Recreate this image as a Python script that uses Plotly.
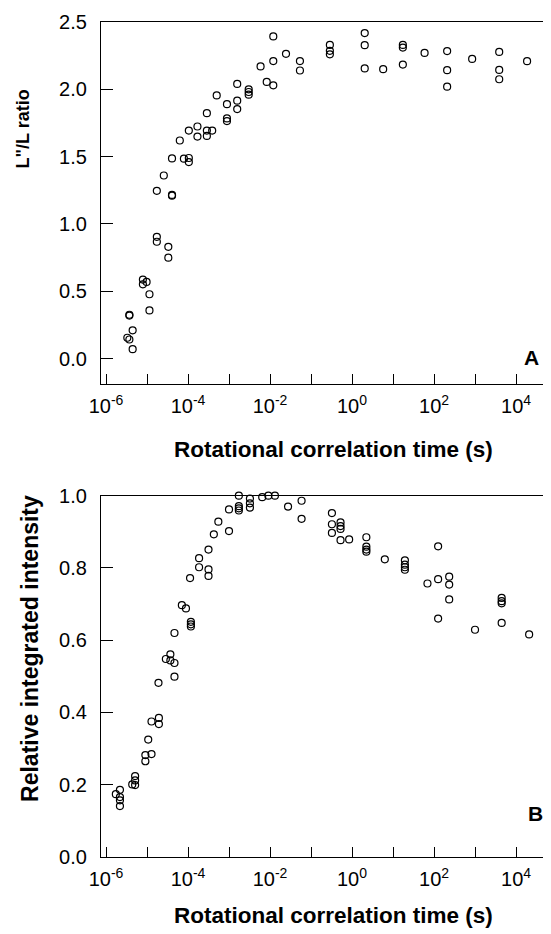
import plotly.graph_objects as go

# ---- Panel A: L''/L ratio vs rotational correlation time (x stored as log10 seconds) ----
a_log10_tau = [-5.48, -5.43, -5.35, -5.35, -5.43, -5.43, -5.10, -5.10, -5.01, -4.94, -4.94,
               -4.76, -4.76, -4.48, -4.48, -4.76, -4.39, -4.39, -4.59, -4.39, -4.10, -3.98,
               -3.98, -4.20, -3.98, -3.77, -3.77, -3.54, -3.41, -3.54, -3.54, -3.30, -3.05,
               -3.05, -3.05, -2.80, -2.80, -2.80, -2.52, -2.52, -2.52, -2.23, -2.08, -1.92,
               -1.92, -1.92, -1.61, -1.27, -1.27, -0.54, -0.54, -0.54, 0.31, 0.31, 0.31,
               0.76, 1.24, 1.24, 1.24, 1.77, 2.32, 2.32, 2.32, 2.93, 3.59, 3.59, 3.59, 4.27]
a_ratio = [0.155, 0.142, 0.21, 0.07, 0.326, 0.32, 0.587, 0.552, 0.57, 0.478, 0.358,
           0.905, 0.868, 0.83, 0.75, 1.246, 1.216, 1.21, 1.36, 1.487, 1.485, 1.49,
           1.46, 1.62, 1.694, 1.724, 1.649, 1.694, 1.694, 1.654, 1.823, 1.955, 1.784,
           1.764, 1.89, 2.04, 1.916, 1.853, 2.0, 1.98, 1.96, 2.17, 2.055, 2.393,
           2.21, 2.03, 2.264, 2.21, 2.14, 2.33, 2.286, 2.26, 2.418, 2.328, 2.155,
           2.15, 2.33, 2.31, 2.184, 2.27, 2.284, 2.142, 2.02, 2.226, 2.278, 2.144, 2.075, 2.209]

# ---- Panel B: relative integrated intensity ----
b_log10_tau = [-5.66, -5.76, -5.66, -5.66, -5.66, -5.29, -5.29, -5.36, -5.29,
               -5.04, -5.04, -4.89, -4.97, -4.71, -4.71, -4.89, -4.72, -4.33,
               -4.43, -4.54, -4.43, -4.33, -4.33, -3.93, -3.93, -3.93, -4.15, -4.05,
               -3.95, -3.73, -3.73, -3.50, -3.50, -3.50, -3.37, -3.26, -3.0, -3.0,
               -2.76, -2.76, -2.76, -2.76, -2.49, -2.49, -2.49, -2.19, -2.04, -1.88,
               -1.56, -1.23, -1.23, -0.49, -0.49, -0.49, -0.28, -0.28, -0.28, -0.28, -0.07,
               0.35, 0.35, 0.35, 0.35, 0.80, 1.29, 1.29, 1.29, 1.29, 1.84,
               2.10, 2.10, 2.10, 2.37, 2.37, 2.37, 3.0, 3.65, 3.65, 3.65, 3.65, 4.32]
b_intensity = [0.186, 0.174, 0.166, 0.157, 0.141, 0.224, 0.212, 0.201, 0.199,
               0.282, 0.265, 0.285, 0.325, 0.385, 0.368, 0.375, 0.482, 0.499,
               0.561, 0.548, 0.544, 0.537, 0.62, 0.651, 0.644, 0.638, 0.697, 0.688,
               0.772, 0.827, 0.802, 0.851, 0.796, 0.778, 0.893, 0.928, 0.962, 0.902,
               1.0, 0.971, 0.965, 0.959, 0.992, 0.979, 0.967, 0.996, 1.0, 1.0,
               0.97, 0.986, 0.936, 0.952, 0.921, 0.897, 0.926, 0.916, 0.908, 0.877, 0.879,
               0.885, 0.859, 0.851, 0.845, 0.824, 0.821, 0.809, 0.802, 0.795, 0.757,
               0.86, 0.769, 0.66, 0.776, 0.754, 0.713, 0.629, 0.717, 0.708, 0.702, 0.648, 0.616]

x_tick_exponents = list(range(-6, 5))
x_tick_labels = ["10<sup>%d</sup>" % e if e % 2 == 0 else "" for e in x_tick_exponents]
a_yticks = [0.0, 0.5, 1.0, 1.5, 2.0, 2.5]
b_yticks = [0.0, 0.2, 0.4, 0.6, 0.8, 1.0]

FONT = "Liberation Sans, Arial, Helvetica, sans-serif"

a_tau = [10 ** v for v in a_log10_tau]
b_tau = [10 ** v for v in b_log10_tau]
tickvals = [10.0 ** e for e in x_tick_exponents]

marker = dict(symbol="circle-open", size=7, color="black", line=dict(width=1.2, color="black"))

fig = go.Figure()
fig.add_trace(go.Scatter(x=a_tau, y=a_ratio, mode="markers", marker=marker,
                         xaxis="x", yaxis="y", showlegend=False, cliponaxis=False))
fig.add_trace(go.Scatter(x=b_tau, y=b_intensity, mode="markers", marker=marker,
                         xaxis="x2", yaxis="y2", showlegend=False, cliponaxis=False))

xcommon = dict(type="log", range=[-6.122, 4.78], tickvals=tickvals, ticktext=x_tick_labels,
               ticks="inside", ticklen=10, tickwidth=1.3, tickcolor="black",
               showline=True, linecolor="black", linewidth=1.3, mirror=True,
               showgrid=False, zeroline=False, ticklabelstandoff=4,
               tickfont=dict(family=FONT, size=20, color="black"))
ycommon = dict(ticks="inside", ticklen=12, tickwidth=1.3, tickcolor="black",
               showline=True, linecolor="black", linewidth=1.3, mirror=False,
               showgrid=False, zeroline=False, tickformat=".1f", ticklabelstandoff=9,
               tickfont=dict(family=FONT, size=20, color="black"))

# page body has an 8px margin, so the figure is 8px smaller than the window
fig.update_layout(
    width=543, height=926,
    margin=dict(l=93, r=3, t=10, b=77),
    paper_bgcolor="white", plot_bgcolor="white",
    font=dict(family=FONT, color="black"),
    xaxis=dict(domain=[0, 1], anchor="y", **xcommon),
    yaxis=dict(domain=[0.5662, 1], anchor="x", range=[-0.19, 2.5], tickvals=a_yticks, **ycommon),
    xaxis2=dict(domain=[0, 1], anchor="y2", **xcommon),
    yaxis2=dict(domain=[0, 0.4327], anchor="x2", range=[0, 1.0], tickvals=b_yticks, **ycommon),
)

C = dict(showarrow=False, xanchor="center", yanchor="middle")
annots = [
    dict(text="<b>L\"/L ratio</b>", x=-0.1745, y=0.8725, xref="paper", yref="paper",
         textangle=-90, font=dict(size=18, family=FONT), **C),
    dict(text="<b>Relative integrated intensity</b>", x=-0.159, y=0.2503, xref="paper", yref="paper",
         textangle=-90, font=dict(size=23, family=FONT), **C),
    dict(text="<b>Rotational correlation time (s)</b>", x=0.521, y=0.4875, xref="paper", yref="paper",
         font=dict(size=22.5, family=FONT), **C),
    dict(text="<b>Rotational correlation time (s)</b>", x=0.521, y=-0.0703, xref="paper", yref="paper",
         font=dict(size=22.5, family=FONT), **C),
    dict(text="<b>A</b>", x=0.962, y=0.074, xref="x domain", yref="y domain",
         font=dict(size=21, family=FONT), **C),
    dict(text="<b>B</b>", x=0.971, y=0.121, xref="x2 domain", yref="y2 domain",
         font=dict(size=21, family=FONT), **C),
]
fig.update_layout(annotations=annots)

fig.write_html("out.html")
